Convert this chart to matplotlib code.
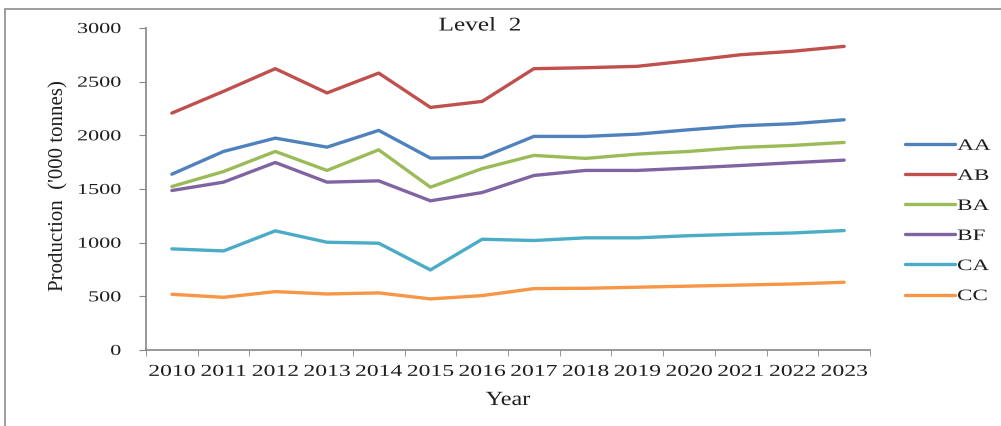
import matplotlib
matplotlib.use("Agg")
import matplotlib.pyplot as plt
from matplotlib.patches import Rectangle
from matplotlib.patheffects import AbstractPathEffect
from matplotlib.transforms import Affine2D
import numpy as np

years = [str(y) for y in range(2010, 2024)]
series_names = ["AA", "AB", "BA", "BF", "CA", "CC"]
aa = [1638, 1850, 1974, 1890, 2046, 1788, 1794, 1990, 1990, 2011, 2052, 2089, 2108, 2145]
ab = [2207, 2410, 2621, 2395, 2580, 2260, 2316, 2621, 2630, 2643, 2695, 2751, 2783, 2829]
ba = [1523, 1663, 1850, 1673, 1865, 1517, 1690, 1813, 1785, 1825, 1850, 1887, 1906, 1934]
bf = [1486, 1564, 1747, 1564, 1576, 1390, 1467, 1626, 1673, 1673, 1695, 1719, 1745, 1769]
ca = [942, 923, 1110, 1004, 995, 746, 1032, 1020, 1045, 1045, 1065, 1079, 1090, 1113]
cc = [519, 491, 544, 522, 532, 476, 507, 572, 575, 585, 595, 605, 615, 631]
colors = ["#4F81BD", "#C0504D", "#9BBB59", "#8064A2", "#4BACC6", "#F79646"]

plt.rcParams['font.family'] = ['Liberation Serif', 'DejaVu Serif']
TXT = "#1e1e1e"


class Stretch(AbstractPathEffect):
    # widen the glyphs sideways, the source picture has wide letters
    def __init__(self, sx, align="center"):
        super().__init__()
        self.sx = sx
        self.align = align

    def draw_path(self, renderer, gc, tpath, affine, rgbFace=None):
        ext = tpath.get_extents()
        if self.align == "left":
            cx = ext.x0
        elif self.align == "right":
            cx = ext.x1
        else:
            cx = (ext.x0 + ext.x1) / 2
        aff = Affine2D().translate(-cx, 0).scale(self.sx, 1).translate(cx, 0) + affine
        renderer.draw_path(gc, tpath, aff, rgbFace)


fig = plt.figure(figsize=(10.01, 4.26), dpi=100)
W, H = 1001, 426
ax = fig.add_axes([146 / W, 1 - 350 / H, (870 - 146) / W, (350 - 28) / H])

# grey frame round the chart
fig.patches.append(Rectangle((5 / W, -0.1), 1.2, 1 - 9 / H + 0.1, transform=fig.transFigure,
                             fill=False, edgecolor="#8c8c8c", linewidth=1.2))

x = np.arange(len(years))
for name, vals, col in zip(series_names, [aa, ab, ba, bf, ca, cc], colors):
    ax.plot(x, vals, color=col, linewidth=2.4, label=name, solid_capstyle="round")

ax.set_xlim(-0.5, len(years) - 0.5)
ax.set_ylim(0, 3000)
ax.set_yticks(range(0, 3001, 500))
ax.set_xticks(x)
ax.set_xticklabels(years, fontsize=12, color=TXT)
ax.set_xticks(np.arange(-0.5, len(years), 1), minor=True)
ax.tick_params(axis="x", which="major", length=0, pad=10)
ax.tick_params(axis="x", which="minor", length=4, color="#868686", direction="out")
ax.tick_params(axis="y", length=5, color="#868686", direction="out", pad=13, labelsize=11,
               labelcolor=TXT)

for lab in ax.get_xticklabels():
    lab.set_path_effects([Stretch(1.42, "center")])
for lab in ax.get_yticklabels():
    lab.set_path_effects([Stretch(1.45, "right")])

for s in ["top", "right"]:
    ax.spines[s].set_visible(False)
for s in ["left", "bottom"]:
    ax.spines[s].set_color("#868686")
    ax.spines[s].set_linewidth(1.2)

ax.set_ylabel("Production  ('000 tonnes)", fontsize=15, color=TXT)
ax.yaxis.set_label_coords(68 / W, 1 - 186 / H, transform=fig.transFigure)
xl = ax.set_xlabel("Year", fontsize=14.5, labelpad=8, color=TXT)
xl.set_path_effects([Stretch(1.2, "center")])
ttl = fig.text(480 / W, 1 - 26 / H, "Level  2", fontsize=14, ha="center", va="center", color=TXT)
ttl.set_path_effects([Stretch(1.3, "center")])

leg = ax.legend(loc="center left", bbox_to_anchor=(891 / W, 1 - 221 / H), bbox_transform=fig.transFigure,
                frameon=False, fontsize=11.5, handlelength=3.1, handletextpad=0.15, labelspacing=0.88)
for t in leg.get_texts():
    t.set_color(TXT)
    t.set_path_effects([Stretch(1.45, "left")])

fig.savefig("out.png", dpi=100)
